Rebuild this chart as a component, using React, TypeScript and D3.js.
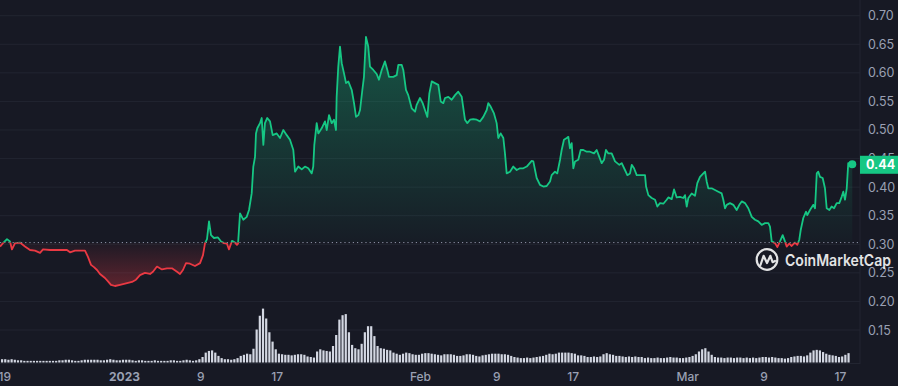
import { useEffect, useRef } from "react";
import * as d3 from "d3";

// price samples: [days after 19 Dec 2022 00:00, price USD]
const pricePoints: [number, number][] = [
  [0.12,0.296],[0.43,0.302],[0.85,0.309],[1.16,0.305],[1.37,0.291],[1.69,0.302],[2.21,0.303],[2.73,0.296],[3.26,0.290],[3.78,0.289],
  [4.31,0.285],[4.62,0.291],[5.35,0.290],[6.40,0.290],[7.13,0.290],[7.45,0.286],[7.97,0.289],[9.02,0.289],[9.33,0.278],[9.65,0.264],
  [9.96,0.260],[10.28,0.255],[10.59,0.248],[11.11,0.241],[11.43,0.235],[11.74,0.229],[12.16,0.227],[12.69,0.229],[13.21,0.231],[13.94,0.234],
  [14.36,0.238],[14.78,0.246],[15.30,0.250],[15.83,0.248],[16.14,0.252],[16.56,0.261],[17.08,0.256],[17.61,0.258],[18.13,0.258],[18.66,0.252],
  [18.97,0.248],[19.28,0.255],[19.60,0.267],[20.02,0.266],[20.54,0.262],[21.07,0.267],[21.38,0.281],[21.59,0.302],[21.80,0.309],[22.01,0.340],
  [22.22,0.316],[22.53,0.311],[22.95,0.312],[23.27,0.305],[23.58,0.302],[23.89,0.301],[24.10,0.291],[24.42,0.306],[24.73,0.303],[24.94,0.299],
  [25.05,0.301],[25.26,0.354],[25.60,0.343],[25.96,0.348],[26.20,0.360],[26.48,0.389],[26.65,0.436],[26.83,0.453],[26.93,0.494],[27.07,0.503],
  [27.35,0.512],[27.53,0.521],[27.70,0.474],[27.87,0.512],[28.11,0.521],[28.40,0.515],[28.68,0.491],[29.10,0.494],[29.45,0.486],[29.79,0.500],
  [30.15,0.491],[30.49,0.483],[30.84,0.465],[31.02,0.427],[31.36,0.436],[31.72,0.431],[32.06,0.436],[32.41,0.433],[32.77,0.424],[32.93,0.436],
  [33.04,0.474],[33.29,0.512],[33.46,0.494],[33.81,0.503],[34.16,0.515],[34.34,0.500],[34.58,0.526],[34.86,0.512],[35.10,0.518],[35.31,0.500],
  [35.38,0.558],[35.55,0.611],[35.73,0.646],[35.91,0.617],[36.15,0.599],[36.36,0.582],[36.60,0.585],[36.96,0.570],[37.20,0.547],[37.41,0.523],
  [37.65,0.526],[37.83,0.535],[38.07,0.570],[38.24,0.593],[38.45,0.663],[38.69,0.646],[38.87,0.611],[39.22,0.605],[39.57,0.598],[39.81,0.588],
  [40.10,0.605],[40.44,0.620],[40.69,0.605],[40.86,0.593],[41.31,0.593],[41.67,0.596],[41.84,0.614],[42.19,0.614],[42.36,0.605],[42.64,0.570],
  [42.88,0.561],[43.24,0.538],[43.59,0.532],[43.76,0.544],[44.11,0.556],[44.39,0.547],[44.63,0.535],[44.88,0.523],[45.09,0.564],[45.34,0.585],
  [45.68,0.582],[46.03,0.579],[46.28,0.550],[46.55,0.547],[46.73,0.556],[47.08,0.558],[47.43,0.553],[47.78,0.561],[48.12,0.567],[48.48,0.558],
  [48.82,0.518],[49.07,0.512],[49.35,0.518],[49.69,0.519],[50.05,0.518],[50.39,0.515],[50.74,0.523],[51.10,0.535],[51.26,0.547],[51.51,0.541],
  [51.86,0.529],[52.14,0.512],[52.31,0.486],[52.56,0.494],[52.84,0.486],[53.01,0.459],[53.19,0.424],[53.54,0.427],[53.88,0.436],[54.24,0.430],
  [54.58,0.433],[54.93,0.433],[55.29,0.436],[55.81,0.446],[55.98,0.445],[56.16,0.430],[56.33,0.416],[56.68,0.404],[57.03,0.401],[57.38,0.402],
  [57.73,0.410],[57.90,0.421],[58.25,0.427],[58.49,0.424],[58.78,0.448],[58.95,0.465],[59.19,0.483],[59.48,0.486],[59.65,0.488],[59.82,0.468],
  [60.00,0.477],[60.17,0.433],[60.35,0.445],[60.69,0.448],[60.94,0.465],[61.22,0.465],[61.57,0.462],[61.92,0.462],[62.34,0.459],[62.62,0.465],
  [62.89,0.453],[63.14,0.442],[63.39,0.448],[63.59,0.465],[63.84,0.459],[64.19,0.459],[64.54,0.445],[64.99,0.439],[65.24,0.442],[65.58,0.430],
  [65.83,0.421],[66.11,0.424],[66.29,0.439],[66.53,0.433],[66.81,0.421],[67.16,0.421],[67.68,0.421],[67.79,0.401],[68.03,0.386],[68.38,0.381],
  [68.73,0.378],[68.97,0.366],[69.25,0.372],[69.60,0.371],[69.95,0.378],[70.12,0.382],[70.48,0.379],[70.72,0.396],[71.00,0.382],[71.34,0.383],
  [71.69,0.381],[71.87,0.386],[72.05,0.366],[72.22,0.381],[72.57,0.389],[72.92,0.385],[73.16,0.407],[73.44,0.418],[73.79,0.424],[73.97,0.427],
  [74.14,0.410],[74.31,0.398],[74.66,0.398],[75.01,0.395],[75.36,0.392],[75.71,0.389],[75.88,0.378],[76.06,0.363],[76.24,0.369],[76.58,0.372],
  [76.93,0.369],[77.28,0.360],[77.56,0.369],[77.81,0.375],[78.16,0.372],[78.50,0.363],[78.86,0.348],[79.20,0.343],[79.55,0.340],[79.90,0.334],
  [80.25,0.337],[80.60,0.337],[80.77,0.331],[80.95,0.305],[81.30,0.302],[81.54,0.295],[81.82,0.305],[82.10,0.316],[82.34,0.305],[82.52,0.296],
  [82.79,0.301],[83.04,0.297],[83.39,0.303],[83.63,0.299],[83.84,0.308],[83.99,0.325],[84.26,0.346],[84.55,0.357],[84.68,0.351],[84.96,0.360],
  [85.31,0.369],[85.49,0.363],[85.67,0.424],[85.83,0.427],[86.01,0.418],[86.29,0.416],[86.53,0.398],[86.71,0.363],[86.99,0.360],[87.23,0.366],
  [87.48,0.363],[87.76,0.372],[88.03,0.372],[88.28,0.383],[88.45,0.392],[88.63,0.378],[88.81,0.398],[88.97,0.442],[89.15,0.439],[89.39,0.440],
];

// 24h volume in 8-hour buckets (relative units)
const volumes = [
  5,6,6,5,6,5,4,4, 3,3,3,3,3,3,3,3,3,3,3,4, 4,5,5,4,3,3,4,5, 5,5,5,5,4,4,5,6,
  5,4,4,5,5,5,4,3, 4,4,3,3,3,4,3,3, 3,3,4,4,3,3,4,5, 4,3,4,6,
  10,18,21,22,18,12,8,6,6,5,6,8,
  12,14,16,15,25,60,85,98,80,55,38,24,16,
  15,14,14,13,14,15,15,14,11,10,9,
  20,24,22,21,20,30,50,78,86,88,55,32,26,24,34,55,66,66,48,30,26,25,23,22,18,16,14,
  16,18,17,15,14,14,16,17,17,16,15,14,13,15,15,
  15,14,12,12,
  13,15,15,14,12,11,13,14,15,16,16,16,15,15,14,12,
  10,9,8,8,9,8,9,10,11,
  12,14,16,15,16,18,18,18,18,17,16,13,13,12,10,10,11,10,11,
  15,17,15,14,12,12,11,10,11,10,11,10,10,8,9,8,8,9,8,8,9,10,9,9,8,8,9,10,
  12,15,20,24,26,20,14,10,9,9,8,9,9,8,9,9,8,9,8,9,8,9,10,10,9,10,9,8,8,7,8,
  10,11,12,12,11,13,18,22,23,22,19,16,14,13,12,10,11,14,17,
];

const openPrice = 0.303;
const lastPriceLabel = "0.44";
const yTicks = [0.15, 0.2, 0.25, 0.3, 0.35, 0.4, 0.45, 0.5, 0.55, 0.6, 0.65, 0.7];
const xTickDates = [
  new Date(2022, 11, 19), new Date(2023, 0, 1), new Date(2023, 0, 9), new Date(2023, 0, 17),
  new Date(2023, 1, 1), new Date(2023, 1, 9), new Date(2023, 1, 17),
  new Date(2023, 2, 1), new Date(2023, 2, 9), new Date(2023, 2, 17),
];
const xTickLabels = ["19", "2023", "9", "17", "Feb", "9", "17", "Mar", "9", "17"];

const WIDTH = 898;
const HEIGHT = 386;
const GREEN = "#16c784";
const RED = "#ea3943";
const BG = "#171924";
const GRID = "#222531";
const LABEL = "#9aa0b3";
const FONT = "Inter, 'Noto Sans', sans-serif";

const START = new Date(2022, 11, 19).getTime();
const dayToDate = (d: number) => new Date(START + d * 864e5);

export default function App() {
  const svgRef = useRef<SVGSVGElement>(null);

  useEffect(() => {
    const svg = d3.select(svgRef.current);
    svg.selectAll("*").remove();

    const plotRight = 860;

    const x = d3
      .scaleTime()
      .domain([new Date(2023, 0, 1), new Date(2023, 2, 17)])
      .range([123, 839]);
    const y = d3.scaleLinear().domain([0.15, 0.7]).range([330, 15.7]);
    const yVol = d3.scaleLinear().domain([0, 100]).range([362.5, 307.5]);

    svg.append("rect").attr("width", WIDTH).attr("height", HEIGHT).attr("fill", BG);

    const defs = svg.append("defs");
    const yBase = y(openPrice);

    const gGreen = defs
      .append("linearGradient")
      .attr("id", "gGreen")
      .attr("gradientUnits", "userSpaceOnUse")
      .attr("x1", 0).attr("x2", 0)
      .attr("y1", 30).attr("y2", yBase);
    gGreen.append("stop").attr("offset", 0).attr("stop-color", GREEN).attr("stop-opacity", 0.36);
    gGreen.append("stop").attr("offset", 1).attr("stop-color", GREEN).attr("stop-opacity", 0.02);

    const gRed = defs
      .append("linearGradient")
      .attr("id", "gRed")
      .attr("gradientUnits", "userSpaceOnUse")
      .attr("x1", 0).attr("x2", 0)
      .attr("y1", yBase).attr("y2", 290);
    gRed.append("stop").attr("offset", 0).attr("stop-color", RED).attr("stop-opacity", 0.03);
    gRed.append("stop").attr("offset", 1).attr("stop-color", RED).attr("stop-opacity", 0.36);

    defs.append("clipPath").attr("id", "clipUp")
      .append("rect").attr("x", 0).attr("y", 0).attr("width", plotRight).attr("height", yBase);
    defs.append("clipPath").attr("id", "clipDown")
      .append("rect").attr("x", 0).attr("y", yBase).attr("width", plotRight).attr("height", HEIGHT - yBase);

    // gridlines
    svg
      .append("g")
      .selectAll("line")
      .data(yTicks)
      .join("line")
      .attr("x1", 0)
      .attr("x2", plotRight)
      .attr("y1", (d) => y(d))
      .attr("y2", (d) => y(d))
      .attr("stroke", GRID)
      .attr("stroke-width", 1);

    svg.append("line")
      .attr("x1", plotRight).attr("x2", plotRight).attr("y1", 0).attr("y2", 364)
      .attr("stroke", GRID);
    svg.append("line")
      .attr("x1", 0).attr("x2", plotRight).attr("y1", 363.5).attr("y2", 363.5)
      .attr("stroke", GRID);

    // volume bars
    svg
      .append("g")
      .selectAll("rect")
      .data(volumes)
      .join("rect")
      .attr("x", (_, i) => x(dayToDate(i / 3)) - 1.1)
      .attr("width", 2.2)
      .attr("y", (d) => yVol(d))
      .attr("height", (d) => yVol(0) - yVol(d))
      .attr("fill", "#d3d7e2");

    const area = d3
      .area<[number, number]>()
      .x((d) => x(dayToDate(d[0])))
      .y0(yBase)
      .y1((d) => y(d[1]));
    const line = d3
      .line<[number, number]>()
      .x((d) => x(dayToDate(d[0])))
      .y((d) => y(d[1]));

    svg.append("path").datum(pricePoints).attr("d", area)
      .attr("fill", "url(#gGreen)").attr("clip-path", "url(#clipUp)");
    svg.append("path").datum(pricePoints).attr("d", area)
      .attr("fill", "url(#gRed)").attr("clip-path", "url(#clipDown)");

    // open price reference
    svg.append("line")
      .attr("x1", 0).attr("x2", plotRight).attr("y1", yBase).attr("y2", yBase)
      .attr("stroke", "#8e94a8").attr("stroke-width", 1).attr("stroke-dasharray", "1.2,3");

    svg.append("path").datum(pricePoints).attr("d", line)
      .attr("fill", "none").attr("stroke", GREEN).attr("stroke-width", 1.8)
      .attr("stroke-linejoin", "round").attr("clip-path", "url(#clipUp)");
    svg.append("path").datum(pricePoints).attr("d", line)
      .attr("fill", "none").attr("stroke", RED).attr("stroke-width", 1.8)
      .attr("stroke-linejoin", "round").attr("clip-path", "url(#clipDown)");

    const last = pricePoints[pricePoints.length - 1];
    svg.append("circle")
      .attr("cx", x(dayToDate(last[0])))
      .attr("cy", y(last[1]))
      .attr("r", 4)
      .attr("fill", GREEN);

    // y axis labels
    svg
      .append("g")
      .selectAll("text")
      .data(yTicks)
      .join("text")
      .attr("x", 868)
      .attr("y", (d) => y(d))
      .attr("dy", "0.36em")
      .attr("fill", LABEL)
      .style("font-family", FONT)
      .attr("font-size", "12.5px")
      .text((d) => d.toFixed(2));

    // last price tag
    svg.append("rect")
      .attr("x", plotRight).attr("y", y(last[1]) - 8.5)
      .attr("width", WIDTH - plotRight).attr("height", 18)
      .attr("fill", GREEN);
    svg.append("text")
      .attr("x", 866).attr("y", y(last[1]))
      .attr("dy", "0.36em")
      .attr("fill", "#ffffff")
      .attr("font-weight", 700)
      .style("font-family", FONT)
      .attr("font-size", "12.5px")
      .text(lastPriceLabel);

    // x axis labels (first one pinned to the left edge)
    svg
      .append("g")
      .selectAll("text")
      .data(xTickDates)
      .join("text")
      .attr("x", (d, i) => (i === 0 ? -1.5 : x(d) + 1.5))
      .attr("y", 381)
      .attr("text-anchor", (_, i) => (i === 0 ? "start" : "middle"))
      .attr("fill", LABEL)
      .attr("font-weight", (_, i) => (xTickLabels[i] === "2023" ? 700 : 500))
      .style("font-family", FONT)
      .attr("font-size", "12px")
      .text((_, i) => xTickLabels[i]);

    // watermark
    const wm = svg.append("g").attr("opacity", 0.88);
    wm.append("circle")
      .attr("cx", 767).attr("cy", 259.5).attr("r", 10.3)
      .attr("fill", "none").attr("stroke", "#ffffff").attr("stroke-width", 2.2);
    wm.append("path")
      .attr("d", "M760.5,265 L763.6,255.8 L767,263 L770.4,255.8 L772.6,262.2 L775,261")
      .attr("fill", "none").attr("stroke", "#ffffff").attr("stroke-width", 2.2)
      .attr("stroke-linejoin", "round").attr("stroke-linecap", "round");
    wm.append("text")
      .attr("x", 785).attr("y", 266)
      .attr("fill", "#ffffff")
      .attr("font-weight", 600)
      .style("font-family", FONT)
      .attr("font-size", "16px")
      .attr("textLength", 106)
      .attr("lengthAdjust", "spacingAndGlyphs")
      .text("CoinMarketCap");
  }, []);

  return (
    <svg
      ref={svgRef}
      width={WIDTH}
      height={HEIGHT}
      style={{ position: "absolute", left: 0, top: 0, display: "block" }}
    />
  );
}
